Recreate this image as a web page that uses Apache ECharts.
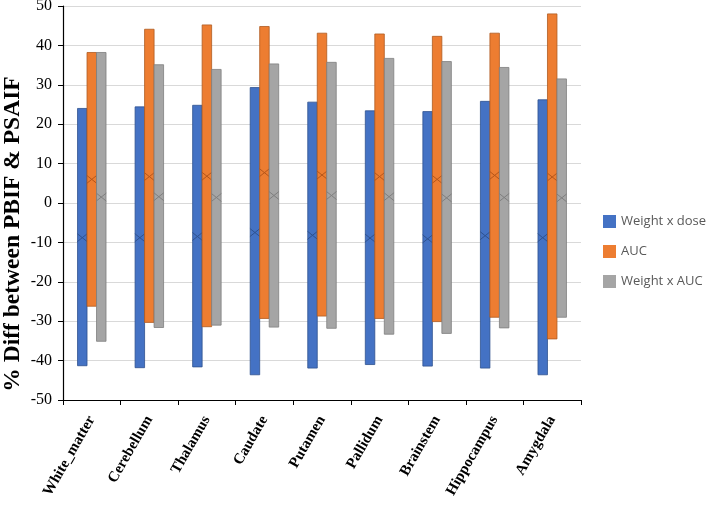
<!DOCTYPE html>
<html><head><meta charset="utf-8">
<script src="https://cdn.jsdelivr.net/npm/echarts@6/dist/echarts.min.js"></script>
<style>html,body{margin:0;padding:0;background:#fff}#c{width:709px;height:505px}</style>
</head><body><div id="c"></div>
<script>
const categories = ['White_matter','Cerebellum','Thalamus','Caudate','Putamen','Pallidum','Brainstem','Hippocampus','Amygdala'];
const seriesNames = ['Weight x dose','AUC','Weight x AUC'];
const wdHigh = [24.0, 24.4, 24.8, 29.3, 25.6, 23.4, 23.2, 25.8, 26.2];
const wdLow  = [-41.3, -41.8, -41.6, -43.6, -41.9, -41.0, -41.4, -41.9, -43.6];
const wdMean = [-8.8, -8.8, -8.5, -7.5, -8.2, -8.9, -9.1, -8.3, -8.8];
const aucHigh = [38.2, 44.1, 45.2, 44.8, 43.1, 42.9, 42.3, 43.1, 48.0];
const aucLow  = [-26.2, -30.3, -31.4, -29.3, -28.7, -29.3, -30.1, -29.0, -34.5];
const aucMean = [6.0, 6.7, 6.8, 7.7, 7.1, 6.7, 6.0, 7.0, 6.6];
const wauHigh = [38.2, 35.1, 33.9, 35.3, 35.7, 36.7, 35.9, 34.4, 31.5];
const wauLow  = [-35.1, -31.6, -31.0, -31.5, -31.8, -33.3, -33.1, -31.7, -29.0];
const wauMean = [1.5, 1.6, 1.4, 1.9, 1.9, 1.6, 1.3, 1.4, 1.3];
const yTicks = [-50,-40,-30,-20,-10,0,10,20,30,40,50];
const yTitle = '% Diff between PBIF & PSAIF';

const colors = ['#4472C4','#ED7D31','#A5A5A5'];
const borders = ['#2F528F','#AE5A21','#7F7F7F'];
const marks = ['#2F528F','#B5561A','#7F7F7F'];
const groups = [[wdLow,wdHigh,wdMean],[aucLow,aucHigh,aucMean],[wauLow,wauHigh,wauMean]];

function makeSeries(si){
  const [lo,hi,mn] = groups[si];
  return {
    type:'custom', name: seriesNames[si],
    itemStyle:{color:colors[si]},
    encode:{x:0, y:[1,2]},
    data: categories.map((c,i)=>[i, lo[i], hi[i], mn[i]]),
    renderItem: function(params, api){
      const idx = api.value(0);
      const band = api.size([1,0])[0];
      const w = band*0.165;
      const top = api.coord([idx, api.value(2)]);
      const bot = api.coord([idx, api.value(1)]);
      const mid = api.coord([idx, api.value(3)]);
      const x0 = top[0] + (si-1.5)*w;
      const cx = x0 + w/2;
      const hw = 5, hh = 4;
      return {type:'group', children:[
        {type:'rect', shape:{x:x0, y:top[1], width:w, height:bot[1]-top[1]},
         style:{fill:colors[si], stroke:borders[si], lineWidth:0.8}},
        {type:'line', shape:{x1:cx-hw,y1:mid[1]-hh,x2:cx+hw,y2:mid[1]+hh}, style:{stroke:marks[si], lineWidth:1}},
        {type:'line', shape:{x1:cx-hw,y1:mid[1]+hh,x2:cx+hw,y2:mid[1]-hh}, style:{stroke:marks[si], lineWidth:1}}
      ]};
    }
  };
}

const chart = echarts.init(document.getElementById('c'));
chart.setOption({
  animation:false,
  grid:{left:63, right:128, top:6, bottom:105, containLabel:false, outerBoundsMode:'none'},
  legend:{
    orient:'vertical', left:598, top:210, itemGap:17, itemWidth:13, itemHeight:13,
    icon:'rect', data:seriesNames,
    textStyle:{fontFamily:'Open Sans', fontSize:13, color:'#595959'}
  },
  graphic:[{
    type:'text', x:13, y:234, rotation:Math.PI/2,
    style:{text:yTitle, fontFamily:'Liberation Serif', fontWeight:'bold', fontSize:23.5, fill:'#000',
      align:'center', verticalAlign:'middle', textAlign:'center', textVerticalAlign:'middle'}
  }],
  xAxis:{
    type:'category', data:categories,
    axisLine:{onZero:false, lineStyle:{color:'#000', width:1.2}},
    axisTick:{show:true, alignWithLabel:false, length:5, lineStyle:{color:'#000'}},
    axisLabel:{rotate:60, interval:0, margin:17, fontFamily:'Liberation Serif', fontWeight:'bold', fontSize:15, color:'#000'},
    splitLine:{show:false}
  },
  yAxis:{
    type:'value', min:-50, max:50, interval:10,
    axisLine:{show:true, lineStyle:{color:'#000', width:1.2}},
    axisTick:{show:true, inside:false, length:5, lineStyle:{color:'#000'}},
    axisLabel:{fontFamily:'Liberation Serif', fontSize:16, color:'#000', margin:11,
      formatter:function(v){return yTicks.indexOf(v)>=0 ? String(v) : '';}},
    splitLine:{lineStyle:{color:'#D9D9D9', width:1}}
  },
  series:[makeSeries(0), makeSeries(1), makeSeries(2)]
});
</script></body></html>
